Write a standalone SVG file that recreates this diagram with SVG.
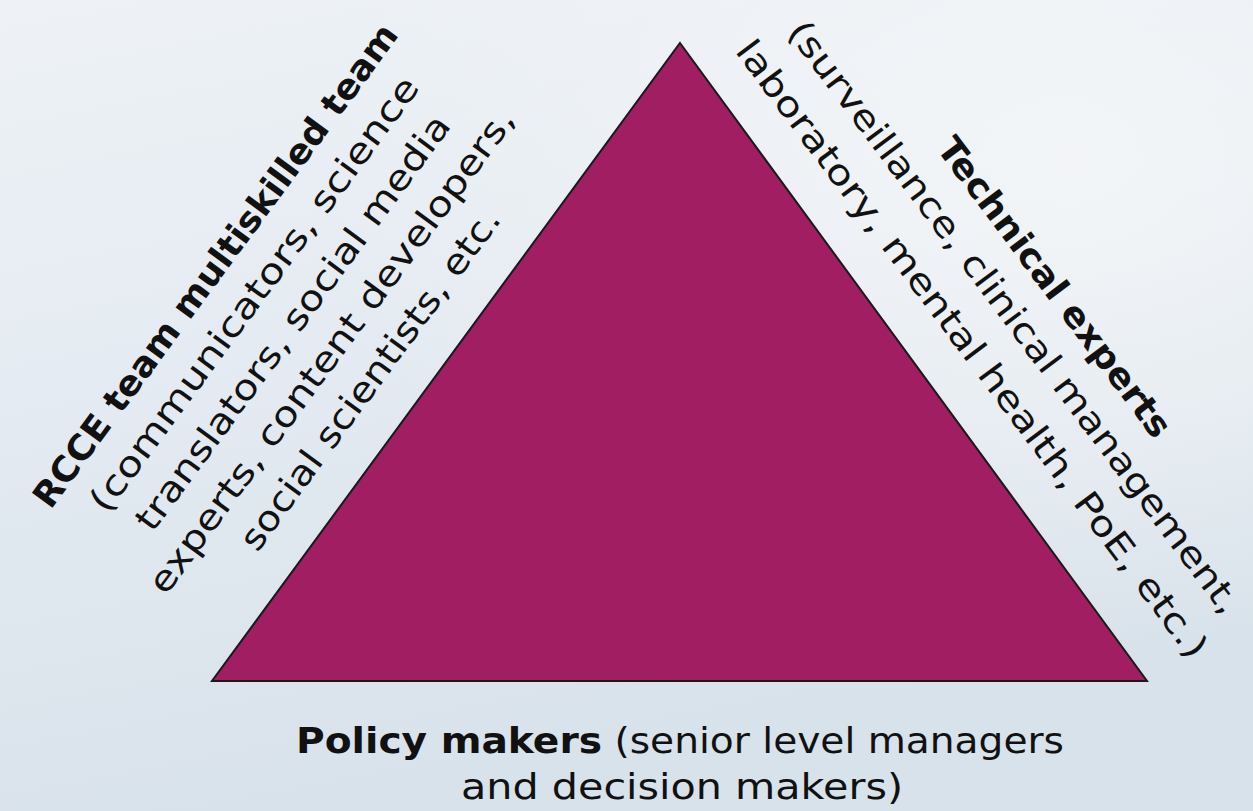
<svg xmlns="http://www.w3.org/2000/svg" width="1253" height="811" viewBox="0 0 1253 811">
  <defs>
    <linearGradient id="bg" x1="0" y1="0" x2="0.3" y2="1">
      <stop offset="0" stop-color="#EEF2F6"/>
      <stop offset="0.5" stop-color="#E3EAF1"/>
      <stop offset="1" stop-color="#D8E2EA"/>
    </linearGradient>
    <radialGradient id="glow" cx="0.85" cy="0.2" r="0.6">
      <stop offset="0" stop-color="#F4F6F8" stop-opacity="0.9"/>
      <stop offset="1" stop-color="#F4F6F8" stop-opacity="0"/>
    </radialGradient>
    <style>
      .lbl { font-family: "DejaVu Sans", "Liberation Sans", sans-serif; font-size: 35px; fill: #111111; text-anchor: middle; }
      .b { font-weight: bold; }
      .tri { fill: #A11E63; stroke: #1A1A1A; stroke-width: 2; stroke-linejoin: miter; }
    </style>
  </defs>

  <rect x="0" y="0" width="1253" height="811" fill="url(#bg)"/>
  <rect x="0" y="0" width="1253" height="811" fill="url(#glow)"/>

  <g id="connectors"/>

  <g id="pyramid">
    <polygon class="tri" points="680,43 1147,681 212,681"/>
  </g>

  <g id="left-label" transform="translate(412,410) rotate(-53.7)">
    <text class="lbl b" x="0" y="-232" textLength="590" lengthAdjust="spacingAndGlyphs">RCCE team multiskilled team</text>
    <text class="lbl" x="0" y="-184" textLength="530" lengthAdjust="spacingAndGlyphs">(communicators, science</text>
    <text class="lbl" x="0" y="-136" textLength="506" lengthAdjust="spacingAndGlyphs">translators, social media</text>
    <text class="lbl" x="0" y="-88" textLength="592" lengthAdjust="spacingAndGlyphs">experts, content developers,</text>
    <text class="lbl" x="0" y="-40" textLength="414" lengthAdjust="spacingAndGlyphs">social scientists, etc.</text>
  </g>

  <g id="right-label" transform="translate(928,381.8) rotate(53.2)">
    <text class="lbl b" x="0" y="-146" textLength="365" lengthAdjust="spacingAndGlyphs">Technical experts</text>
    <text class="lbl" x="0" y="-96" textLength="730" lengthAdjust="spacingAndGlyphs">(surveillance, clinical management,</text>
    <text class="lbl" x="0" y="-43" textLength="762" lengthAdjust="spacingAndGlyphs">laboratory, mental health, PoE, etc.)</text>
  </g>

  <g id="bottom-label">
    <text class="lbl" x="680" y="753" textLength="768" lengthAdjust="spacingAndGlyphs"><tspan class="b">Policy makers</tspan> (senior level managers</text>
    <text class="lbl" x="682" y="799" textLength="442" lengthAdjust="spacingAndGlyphs">and decision makers)</text>
  </g>
</svg>
